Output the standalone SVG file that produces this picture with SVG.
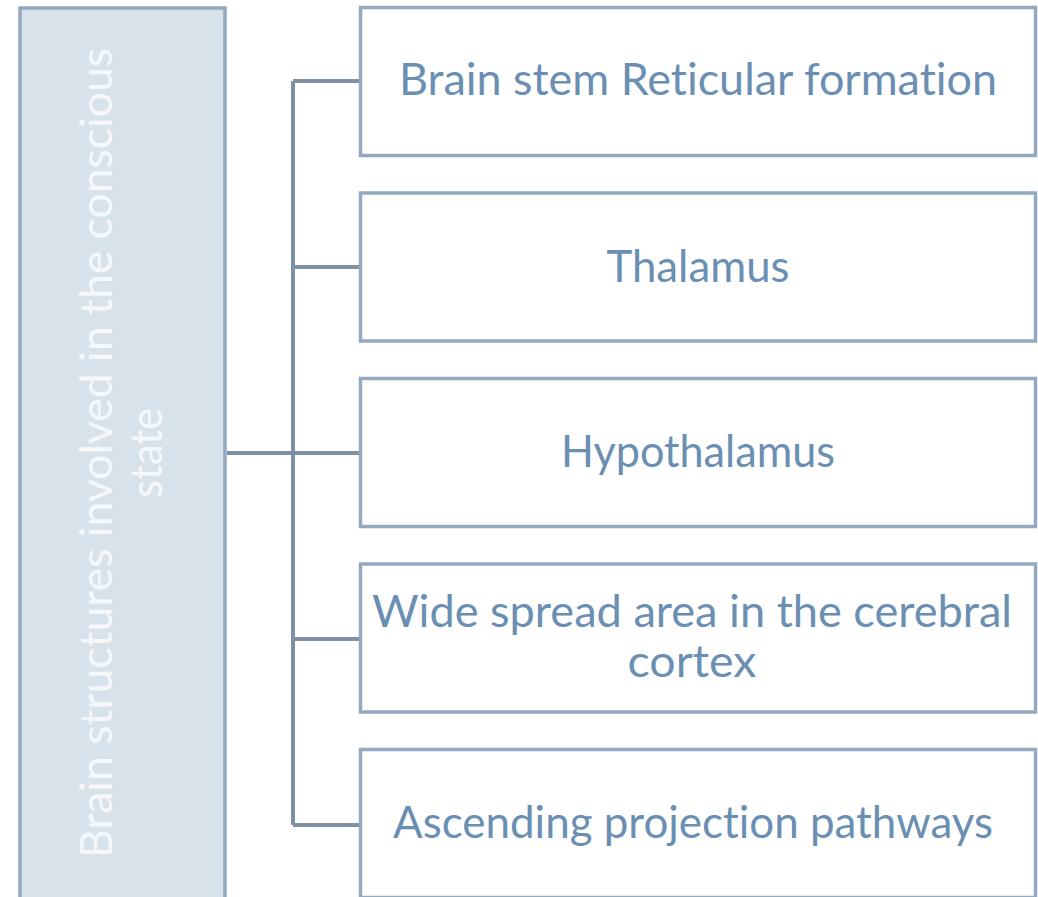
<svg xmlns="http://www.w3.org/2000/svg" width="1038" height="897" viewBox="0 0 1038 897">
<style>
.box{fill:#ffffff;stroke:#93A9BF;stroke-width:3.5}
.root{fill:#D8E2EB;stroke:#93A9BF;stroke-width:3.5}
.lbl{font-family:Lato,"Liberation Sans",sans-serif;font-size:44px;fill:#6A8FB3;text-anchor:middle;font-variant-ligatures:none}
.rlbl{font-family:Lato,"Liberation Sans",sans-serif;font-size:44px;fill:#F5F8FB;text-anchor:middle;font-variant-ligatures:none}
.conn{fill:none;stroke:#7E91A4;stroke-width:4}
</style>
<rect width="1038" height="897" fill="#ffffff"/>
<g id="connectors">
<path class="conn" d="M227 453 H293 M293 81 V825 M293 81 H360 M293 267 H360 M293 453 H360 M293 639 H360 M293 825 H360"/>
</g>
<g id="root">
<rect class="root" x="20" y="8" width="205" height="895"/>
<g transform="translate(112,453) rotate(-90)">
<text class="rlbl" x="0" y="0" textLength="810" lengthAdjust="spacingAndGlyphs">Brain structures involved in the conscious</text>
<text class="rlbl" x="0" y="50" textLength="90" lengthAdjust="spacingAndGlyphs">state</text>
</g>
</g>
<g id="n1">
<rect class="box" x="360.5" y="7.5" width="675" height="148"/>
<text class="lbl" x="698" y="95" textLength="598" lengthAdjust="spacingAndGlyphs">Brain stem Reticular formation</text>
</g>
<g id="n2">
<rect class="box" x="360.5" y="193" width="675" height="148"/>
<text class="lbl" x="698" y="282" textLength="183" lengthAdjust="spacingAndGlyphs">Thalamus</text>
</g>
<g id="n3">
<rect class="box" x="360.5" y="378.5" width="675" height="148"/>
<text class="lbl" x="698" y="467" textLength="274" lengthAdjust="spacingAndGlyphs">Hypothalamus</text>
</g>
<g id="n4">
<rect class="box" x="360.5" y="564" width="675" height="148"/>
<text class="lbl" x="692" y="627" textLength="640" lengthAdjust="spacingAndGlyphs">Wide spread area in the cerebral</text>
<text class="lbl" x="692" y="677" textLength="129" lengthAdjust="spacingAndGlyphs">cortex</text>
</g>
<g id="n5">
<rect class="box" x="360.5" y="749.5" width="675" height="148"/>
<text class="lbl" x="693" y="838" textLength="600" lengthAdjust="spacingAndGlyphs">Ascending projection pathways</text>
</g>
</svg>
